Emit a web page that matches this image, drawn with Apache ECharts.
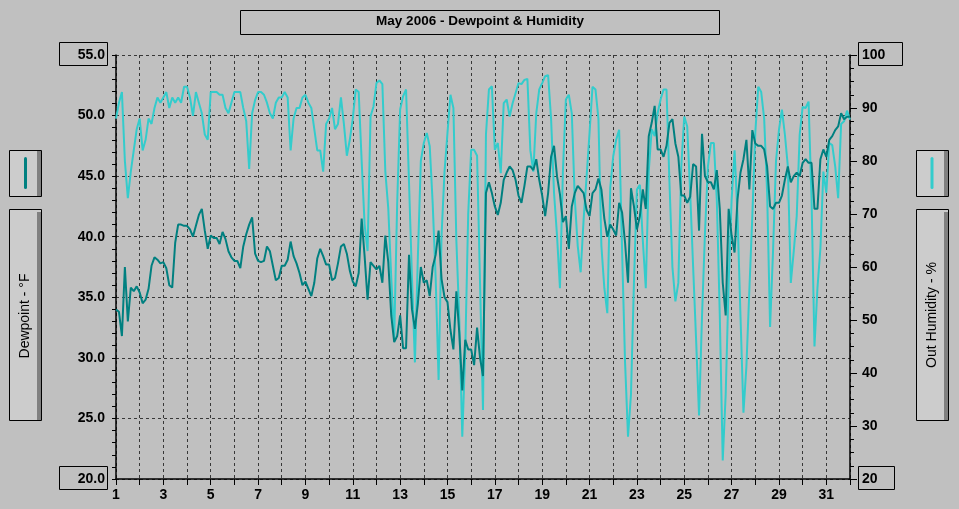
<!DOCTYPE html>
<html>
<head>
<meta charset="utf-8">
<script src="https://cdn.jsdelivr.net/npm/echarts@6/dist/echarts.min.js"></script>
<style>
html,body{margin:0;padding:0;background:#C0C0C0;}
#chart{width:959px;height:509px;}
</style>
</head>
<body>
<div id="chart"></div>
<script>
// Tick labels on the day axis
const dayLabels = ['1','3','5','7','9','11','13','15','17','19','21','23','25','27','29','31'];
// Samples every 3 hours (8 per day), starting May 1 00:00, ending June 1 00:00
const samplesPerDay = 8;
const dewpoint = [
34.0,33.8,31.8,37.5,33.0,35.8,35.5,35.9,
35.4,34.5,34.8,35.7,37.6,38.3,38.1,37.8,
37.9,37.4,36.0,35.8,39.5,41.0,41.0,40.9,
40.9,40.6,40.0,40.9,41.8,42.3,40.5,39.0,
40.1,39.9,39.9,39.4,40.4,39.8,38.8,38.3,
38.0,38.0,37.4,39.2,40.2,41.0,41.6,38.6,
38.0,37.9,38.0,39.2,38.8,37.6,36.4,36.6,
37.6,37.6,38.1,39.6,38.4,37.8,37.0,36.0,
36.3,35.7,35.1,36.2,38.2,39.0,38.4,37.7,
37.7,36.4,36.6,37.8,39.2,39.4,38.6,37.2,
36.3,35.9,37.0,41.5,38.4,34.8,37.9,37.6,
37.3,37.6,36.2,40.1,37.9,33.5,31.3,31.8,
33.5,30.8,30.8,38.5,34.0,32.4,34.5,37.5,
36.2,36.4,35.1,37.5,38.5,40.5,36.5,35.0,
34.6,32.3,30.7,35.5,32.0,27.3,31.5,30.7,
30.7,29.4,32.5,30.0,28.5,43.6,44.5,43.6,
42.5,41.8,42.8,44.7,45.3,45.8,45.5,44.7,
43.4,42.8,44.2,45.8,45.8,45.5,46.4,44.7,
43.4,41.7,43.6,46.6,47.5,45.0,43.5,41.2,
41.7,39.0,42.5,43.6,44.2,43.9,43.6,42.2,
41.7,43.6,43.9,44.8,43.9,41.5,40.0,41.0,
40.6,40.1,42.8,42.0,39.5,36.2,44.0,42.5,
40.6,41.7,43.9,42.3,48.3,49.4,50.8,47.2,
47.2,46.6,47.5,49.4,49.7,47.7,46.6,43.4,
43.4,42.8,43.3,46.0,45.8,40.5,48.5,45.0,
44.5,44.5,43.9,45.5,42.3,36.2,33.5,42.3,
40.1,38.7,43.1,45.3,46.4,48.0,43.9,48.8,
47.7,47.5,47.5,47.2,45.8,42.5,42.3,42.8,
42.8,43.4,44.7,45.8,44.5,45.0,45.3,45.0,
46.1,46.4,46.1,46.1,42.3,42.3,46.4,47.2,
46.6,48.0,48.3,48.8,49.1,50.2,49.7,49.9,
49.9
];
const humidity = [
88,91,93,80,73,78,82,86,
88,82,84,88,87,90,92,91,
92,93,90,92,91,92,91,94,
94,92,88.5,93,91,89,85,84,
93,93,93,92.5,92.5,90,89,91,
93,93,93,90,87.5,78.5,89,91.5,
93,93,92.5,91,89,88,91,92,
92,93,92,82,88,90,90,92,
92.5,91,90,86,82,82,78,87,
88,90,86,87,92,87,81,84,
88,93.5,93,80,68,63,88.4,90.3,
94.7,95.2,94.5,78,71,58,46.5,72,
89.7,92.2,93.5,76,58,42,62,80,
83.4,85.3,82.8,72,58,38.7,66,78,
85.3,92.5,90,65,50,28,44,70,
82.1,82.1,81,57,33,85,93.5,94.1,
82.1,83.4,77.7,90.9,91.6,88.4,90.9,92.8,
94.7,94.5,95.3,95.5,82,78,89,93.5,
94.7,96,96.2,88,74,66,56,78,
91.6,92.5,89,73,64,59,69,77,
85.3,94,93.5,88,64,56,51.3,75,
80.9,84,85.9,63,42,28,36,57,
74.6,75.5,65,56,78,86,84.7,89,
91.6,93.5,93.5,76,60,53.5,57,79,
88.4,86.5,74,60,46.3,32,50.7,66.4,
79,83.4,83.4,72.7,51,23.5,36,57,
72.7,82,69.6,50.7,32.5,41.3,55.7,69.6,
85.3,94,93,88,74,48.7,63,80,
85.9,89.7,85,79,57,63,69.6,85,
90.2,90,91.2,73,45,56,63.5,78,
74,83.4,83,79,73,87,87.5,89.5,
87.8
];

const FONT = 'Liberation Sans';
const toPairs = arr => arr.map((v, i) => [1 + i / samplesPerDay, v]);

const chart = echarts.init(document.getElementById('chart'), null, {renderer: 'canvas'});

function box(x, y, w, h, fill) {
  return {type: 'rect', silent: true, shape: {x: x + 0.5, y: y + 0.5, width: w, height: h},
    style: {fill: fill || 'none', stroke: '#000', lineWidth: 1}, z: 100};
}
function strip(x, y, w, h, color) {
  return {type: 'rect', silent: true, shape: {x: x, y: y, width: w, height: h}, style: {fill: color}, z: 101};
}

chart.setOption({
  backgroundColor: '#C0C0C0',
  animation: false,
  grid: {left: 116, right: 109, top: 55, bottom: 30, containLabel: false},
  xAxis: {
    type: 'value', min: 1, max: 32, interval: 1,
    axisLine: {show: true, lineStyle: {color: '#000', width: 1.5}},
    axisTick: {show: true, length: 6, lineStyle: {color: '#000', width: 1}},
    axisLabel: {
      color: '#000', fontWeight: 'bold', fontSize: 14, fontFamily: FONT, margin: 9,
      formatter: v => dayLabels.indexOf(String(v)) >= 0 ? String(v) : ''
    },
    splitLine: {show: true, lineStyle: {color: '#383838', type: [3, 3], width: 1}}
  },
  yAxis: [
    {
      type: 'value', min: 20, max: 55, interval: 5, position: 'left',
      axisLine: {show: true, lineStyle: {color: '#000', width: 1.5}},
      axisTick: {show: true, length: 4, lineStyle: {color: '#000'}},
      minorTick: {show: true, splitNumber: 5, length: 4, lineStyle: {color: '#000'}},
      axisLabel: {color: '#000', fontWeight: 'bold', fontSize: 14, fontFamily: FONT, margin: 11,
        formatter: v => v.toFixed(1)},
      splitLine: {show: true, lineStyle: {color: '#383838', type: [3, 3], width: 1}}
    },
    {
      type: 'value', min: 20, max: 100, interval: 10, position: 'right',
      axisLine: {show: true, lineStyle: {color: '#000', width: 1.5}},
      axisTick: {show: true, length: 7, lineStyle: {color: '#000'}},
      minorTick: {show: true, splitNumber: 4, length: 4, lineStyle: {color: '#000'}},
      axisLabel: {color: '#000', fontWeight: 'bold', fontSize: 14, fontFamily: FONT, margin: 12},
      splitLine: {show: false}
    }
  ],
  series: [
    {
      name: 'Out Humidity', type: 'line', yAxisIndex: 1, data: toPairs(humidity),
      showSymbol: false, symbol: 'none', lineStyle: {color: '#33CCCC', width: 2}, z: 3
    },
    {
      name: 'Dewpoint', type: 'line', yAxisIndex: 0, data: toPairs(dewpoint),
      showSymbol: false, symbol: 'none', lineStyle: {color: '#008080', width: 2}, z: 4
    }
  ],
  graphic: [
    box(240, 10, 479, 24),
    {type: 'text', silent: true, x: 480, y: 21, z: 102,
      style: {text: 'May 2006 - Dewpoint & Humidity', fill: '#000', font: 'bold 13.5px "' + FONT + '"',
        textAlign: 'center', textVerticalAlign: 'middle'}},
    box(59, 42, 48, 23),
    box(59, 466, 48, 23),
    box(858, 42, 44, 23),
    box(858, 466, 36, 23),
    // left legend
    box(9, 150, 32, 46, '#CCCCCC'),
    strip(37, 151, 4, 45, '#808080'),
    {type: 'rect', silent: true, z: 102, shape: {x: 24, y: 157, width: 3, height: 32, r: 1.5}, style: {fill: '#008080'}},
    box(9, 209, 32, 211, '#CCCCCC'),
    strip(37, 212, 4, 208, '#808080'),
    {type: 'text', silent: true, x: 25, y: 316, rotation: Math.PI / 2, z: 102,
      style: {text: 'Dewpoint - °F', fill: '#000', font: '14px "' + FONT + '"',
        textAlign: 'center', textVerticalAlign: 'middle'}},
    // right legend
    box(916, 150, 32, 46, '#CCCCCC'),
    strip(944, 151, 4, 45, '#808080'),
    {type: 'rect', silent: true, z: 102, shape: {x: 930.5, y: 157, width: 3, height: 32, r: 1.5}, style: {fill: '#33CCCC'}},
    box(916, 209, 32, 211, '#CCCCCC'),
    strip(944, 212, 4, 208, '#808080'),
    {type: 'text', silent: true, x: 932, y: 315, rotation: Math.PI / 2, z: 102,
      style: {text: 'Out Humidity - %', fill: '#000', font: '14px "' + FONT + '"',
        textAlign: 'center', textVerticalAlign: 'middle'}}
  ]
});
</script>
</body>
</html>
